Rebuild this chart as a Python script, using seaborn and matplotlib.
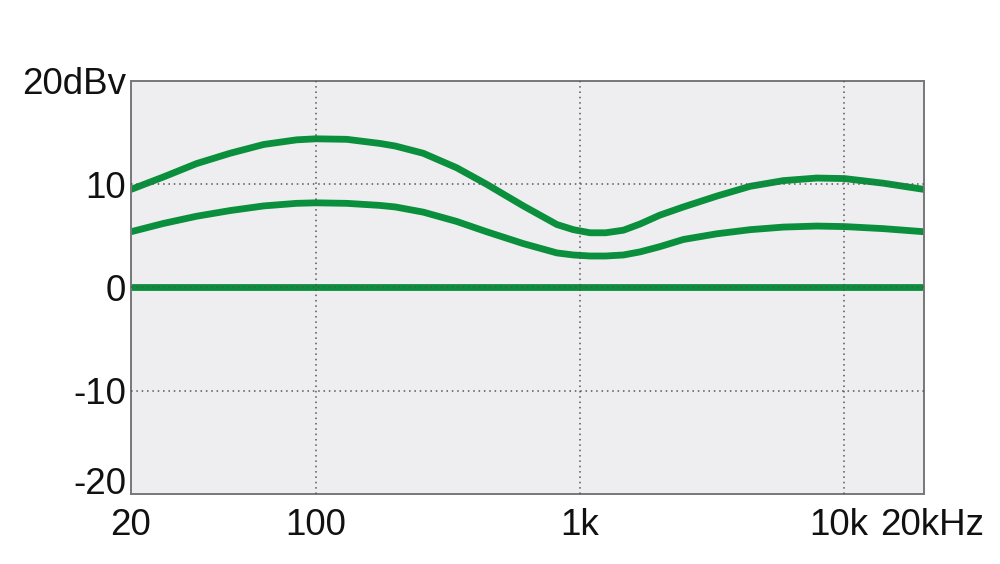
import numpy as np
import pandas as pd
import matplotlib
matplotlib.use("Agg")
import matplotlib.pyplot as plt
import matplotlib.transforms as mtransforms
import seaborn as sns

freqs = [20, 26.5, 35.4, 47.4, 63.5, 84.6, 100, 131, 175, 200, 255, 341, 443,
         610, 817, 943, 1091, 1250, 1459, 1686, 2000, 2459, 3288, 4397, 5874,
         7850, 10000, 14040, 20000]
upper = [9.5, 10.7, 12.0, 13.0, 13.85, 14.3, 14.4, 14.35, 13.95, 13.7, 13.0,
         11.6, 10.0, 7.9, 6.1, 5.6, 5.3, 5.3, 5.55, 6.15, 7.0, 7.8, 8.85, 9.8,
         10.35, 10.6, 10.55, 10.1, 9.5]
lower = [5.4, 6.2, 6.9, 7.45, 7.9, 8.15, 8.2, 8.15, 7.95, 7.8, 7.3, 6.4, 5.4,
         4.25, 3.35, 3.15, 3.05, 3.05, 3.15, 3.45, 3.95, 4.65, 5.2, 5.6, 5.85,
         5.95, 5.9, 5.7, 5.4]
flat = [0.0] * len(freqs)

xticks = [20, 100, 1000, 10000, 20000]
xticklabels = ["20", "100", "1k", "10k", "20kHz"]
yticks = [-20, -10, 0, 10, 20]
yticklabels = ["-20", "-10", "0", "10", "20dBv"]

df = pd.concat([
    pd.DataFrame({"freq": freqs, "level": upper, "curve": "upper"}),
    pd.DataFrame({"freq": freqs, "level": lower, "curve": "lower"}),
    pd.DataFrame({"freq": freqs, "level": flat, "curve": "flat"}),
])

sns.set_theme(style="white")
plt.rcParams["font.family"] = ["Liberation Sans", "DejaVu Sans"]

fig = plt.figure(figsize=(10, 5.64), dpi=100)
ax = fig.add_axes([0.131, 0.1241, 0.793, 0.7323])
ax.set_facecolor("#eeeef0")

green = "#0a8f3c"
sns.lineplot(data=df, x="freq", y="level", hue="curve",
             palette={"upper": green, "lower": green, "flat": green},
             linewidth=4.9, legend=False, ax=ax, sort=True)
for ln in ax.get_lines():
    ln.set_solid_joinstyle("round")
    ln.set_solid_capstyle("butt")

ax.set_xscale("log")
ax.set_xlim(20, 20000)
ax.set_ylim(-20, 20)
ax.set_xlabel("")
ax.set_ylabel("")

ax.set_xticks(xticks)
ax.set_xticklabels(xticklabels)
ax.set_yticks(yticks)
ax.set_yticklabels(yticklabels)
ax.minorticks_off()
ax.tick_params(axis="both", length=0, labelsize=26.5, colors="#111111")
ax.tick_params(axis="x", pad=10)
ax.tick_params(axis="y", pad=3.5)

for xv in [100, 1000, 10000]:
    ax.axvline(xv, color="#555555", linestyle=(0, (1, 2.5)), linewidth=1.1, zorder=5)
for yv in [-10, 0, 10]:
    ax.axhline(yv, color="#555555", linestyle=(0, (1, 2.5)), linewidth=1.1, zorder=5)

ylabs = ax.get_yticklabels()
ylabs[0].set_va("baseline")

xlabs = ax.get_xticklabels()
xlabs[3].set_transform(xlabs[3].get_transform() +
                       mtransforms.ScaledTranslation(-6 / 100, 0, fig.dpi_scale_trans))
xlabs[4].set_transform(xlabs[4].get_transform() +
                       mtransforms.ScaledTranslation(8 / 100, 0, fig.dpi_scale_trans))

for s in ax.spines.values():
    s.set_visible(True)
    s.set_color("#777777")
    s.set_linewidth(1.4)

fig.savefig("out.png", dpi=100, facecolor="white")
